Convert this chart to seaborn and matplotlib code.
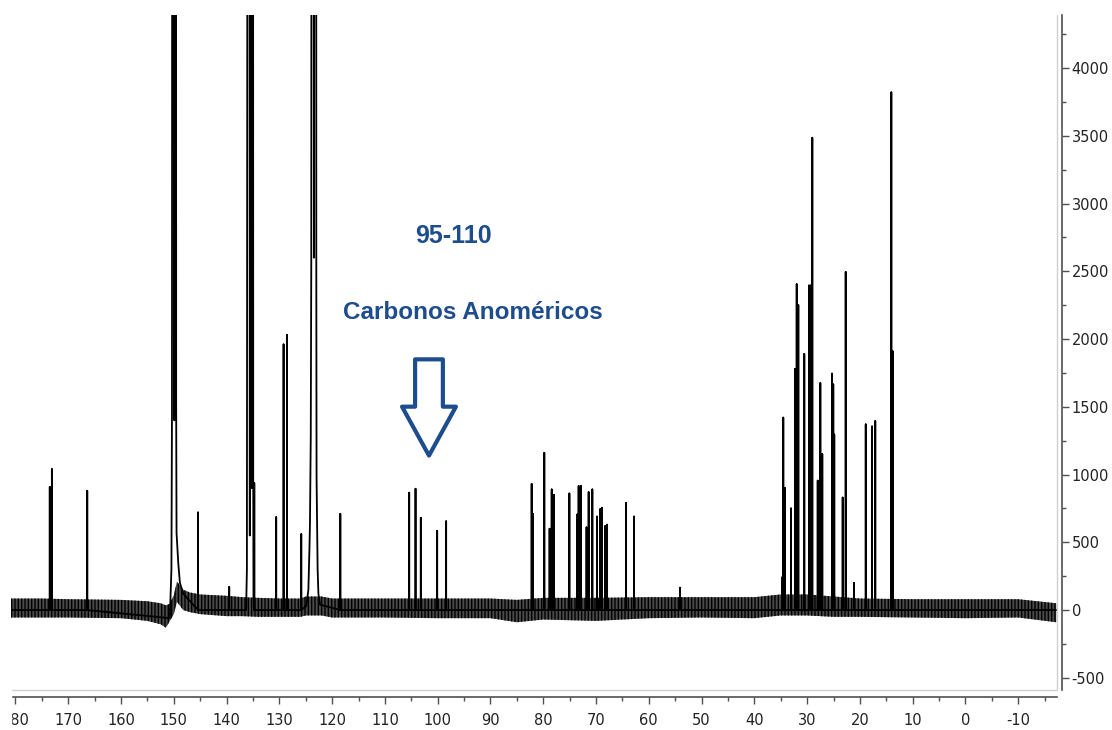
import pandas as pd
import matplotlib
matplotlib.use("Agg")
import matplotlib.pyplot as plt
import seaborn as sns
from matplotlib.ticker import MultipleLocator
from matplotlib.patches import Rectangle

# 13C NMR spectrum, peaks
# sharp lines: chemical shift (ppm) and intensity
peak_ppm = [173.5, 173.1, 166.4, 145.4, 139.5, 134.75, 130.6, 129.2, 128.55, 125.85, 118.45,
            105.4, 104.2, 103.2, 100.1, 98.4,
            82.2, 81.95, 79.8, 78.8, 78.4, 77.95, 75.05, 73.55, 73.3, 72.85, 71.8, 71.4, 70.7,
            69.8, 69.2, 68.9, 68.25, 67.9, 64.3, 62.8, 54.1,
            34.77, 34.52, 34.2, 33.06, 32.3, 31.98, 31.67, 30.54, 29.65, 29.33, 29.02, 28.0,
            27.5, 27.13, 25.29, 25.05, 24.86, 23.27, 22.7, 21.13, 18.9, 17.7, 17.09, 14.05, 13.8]
peak_int = [908, 1040, 880, 720, 170, 935, 685, 1960, 2030, 560, 710,
            866, 895, 680, 585, 655,
            930, 710, 1160, 600, 890, 850, 860, 705, 915, 915, 610, 870, 890,
            690, 745, 755, 620, 630, 790, 690, 165,
            240, 1420, 900, 750, 1780, 2405, 2250, 1890, 2395, 2395, 3485, 955,
            1675, 1150, 1745, 1665, 1295, 830, 2495, 200, 1370, 1355, 1395, 3820, 1910]

# the three lines that go off scale (outline of each line)
big150_ppm = [150.75, 150.45, 150.35, 150.15, 149.9, 149.65, 149.55, 149.48, 149.16, 148.84, 148.2]
big150_int = [-60, 300, 1400, 20000, 1400, 20000, 1500, 570, 350, 200, 120]
big136_ppm = [136.3, 136.15, 135.8, 135.6, 135.4, 135.22, 135.05, 134.95, 134.9]
big136_int = [0, 300, 20000, 550, 20000, 900, 20000, 950, 100]
big123_ppm = [124.9, 124.5, 124.3, 124.2, 124.05, 123.95, 123.8, 123.45, 123.1, 123.0, 122.95,
              122.75, 122.6, 122.3]
big123_int = [30, 150, 450, 640, 1280, 2600, 20000, 2600, 20000, 2500, 980, 300, 120, 40]

# baseline noise envelope
env_ppm = [181.0, 175, 170, 160, 155, 152.5, 151.5, 150.8, 150.0, 149.4, 148.8, 148.2, 147, 145,
           140, 137, 134, 130, 126, 125, 122, 120, 110, 100, 90, 85, 80, 70, 60, 50, 40, 35,
           30, 25, 20, 10, 0, -10, -17.2]
env_lo = [-55, -55, -55, -60, -80, -105, -130, -85, -30, 60, 30, 0, -15, -30,
          -45, -45, -50, -50, -50, -40, -40, -55, -55, -60, -60, -90, -70, -80, -60, -55, -60, -40,
          -40, -50, -50, -55, -60, -55, -90]
env_hi = [85, 85, 80, 75, 65, 50, 35, 45, 110, 210, 180, 150, 130, 115,
          105, 95, 90, 85, 85, 100, 100, 85, 85, 85, 85, 75, 90, 90, 95, 95, 95, 115,
          115, 100, 85, 80, 80, 80, 50]

blue = "#1d4d8c"

# build the trace, highest shift first
segments = [(big150_ppm, big150_int), (big136_ppm, big136_int), (big123_ppm, big123_int)]
for p, h in zip(peak_ppm, peak_int):
    segments.append(([p, p, p], [0, h, 0]))
segments.sort(key=lambda s: -s[0][0])
xs, ys = [env_ppm[0]], [0]
for sp, si in segments:
    xs += sp
    ys += si
xs.append(env_ppm[-1])
ys.append(0)
spec = pd.DataFrame({"ppm": xs, "intensity": ys})

sns.set_style("white")
plt.rcParams["font.family"] = ["DejaVu Sans"]
plt.rcParams["axes.unicode_minus"] = False
plt.rcParams["hatch.linewidth"] = 1.0

fig = plt.figure(figsize=(11.12, 7.30), dpi=100)
ax = fig.add_axes([10.5 / 1112, 40 / 730, (1057 - 10.5) / 1112, (715 - 40) / 730])

# noise band: dark fill with vertical hatching to give it some grain
ax.fill_between(env_ppm, env_lo, env_hi, facecolor="#4a4a4a", edgecolor="black",
                hatch="|||||", lw=0, zorder=1)
sns.lineplot(data=spec, x="ppm", y="intensity", sort=False, estimator=None,
             color="black", lw=1.3, ax=ax, zorder=2)

ax.set_xlim(180.94, -17.34)
ax.set_ylim(-590, 4391)
ax.set_xlabel("")
ax.set_ylabel("")

ax.xaxis.set_major_locator(MultipleLocator(10))
ax.xaxis.set_minor_locator(MultipleLocator(5))
ax.yaxis.set_major_locator(MultipleLocator(500))
ax.yaxis.set_minor_locator(MultipleLocator(250))
ax.yaxis.tick_right()

for s in ["left", "top"]:
    ax.spines[s].set_visible(False)
for s in ["right", "bottom"]:
    ax.spines[s].set_visible(True)
    ax.spines[s].set_color("#505050")
    ax.spines[s].set_linewidth(1.2)
ax.spines["right"].set_position(("outward", 3.6))
ax.spines["bottom"].set_position(("outward", 5))

ax.tick_params(axis="both", which="major", length=5, width=1, color="#505050",
               labelsize=10.5, labelcolor="#222222", direction="out")
ax.tick_params(axis="both", which="minor", length=3, width=1, color="#505050", direction="out")
ax.tick_params(axis="x", which="both", bottom=True, pad=6.5)
ax.tick_params(axis="y", which="both", right=True, left=False, pad=2)

# light frame of the plot area
ax.plot([0, 1, 1], [0, 0, 1], transform=ax.transAxes, color="#d0d0d0", lw=1, clip_on=False)

# annotation
ax.text(97.0, 2760, "95-110", ha="center", va="center", fontsize=18, fontweight="bold",
        color=blue, family="Liberation Sans")
ax.text(93.4, 2199, "Carbonos Anoméricos", ha="center", va="center", fontsize=17.5,
        fontweight="bold", color=blue, family="Liberation Sans")
ax.annotate("", xy=(101.65, 1140), xytext=(101.65, 1850),
            arrowprops=dict(arrowstyle="simple,head_length=0.88,head_width=0.97,tail_width=0.5",
                            fc="white", ec=blue, lw=3, mutation_scale=40,
                            shrinkA=0, shrinkB=0))

# the original picture is cropped on the left edge
fig.patches.append(Rectangle((0, 0), 11 / 1112, 40 / 730, transform=fig.transFigure,
                             color="white", zorder=10))

fig.savefig("out.png", dpi=100)
